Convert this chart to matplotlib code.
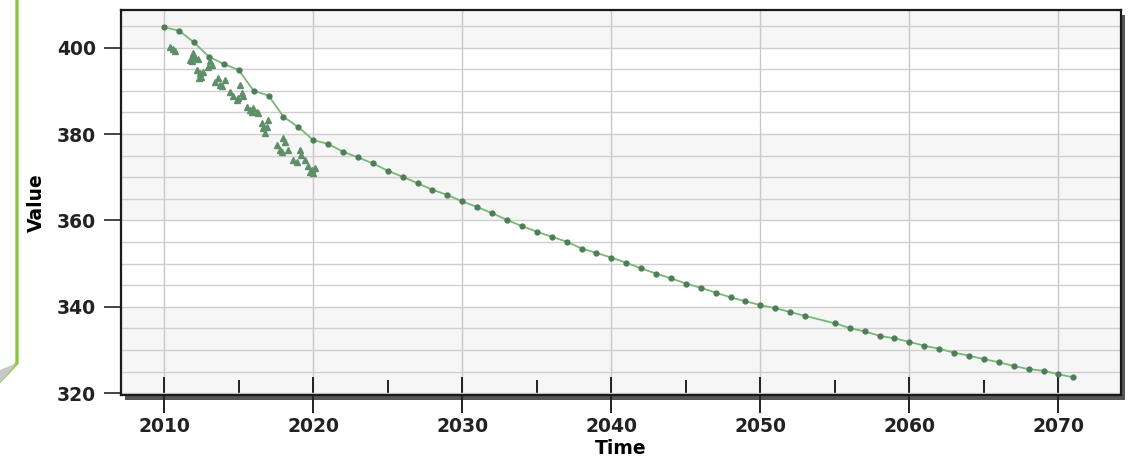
import matplotlib.pyplot as plt
from matplotlib.patches import Rectangle, Polygon
from matplotlib.lines import Line2D
from matplotlib.ticker import MultipleLocator

# projected series (yearly, 2054 missing in the original)
proj_years = [2010, 2011, 2012, 2013, 2014, 2015, 2016, 2017, 2018, 2019,
              2020, 2021, 2022, 2023, 2024, 2025, 2026, 2027, 2028, 2029,
              2030, 2031, 2032, 2033, 2034, 2035, 2036, 2037, 2038, 2039,
              2040, 2041, 2042, 2043, 2044, 2045, 2046, 2047, 2048, 2049,
              2050, 2051, 2052, 2053, 2055, 2056, 2057, 2058, 2059, 2060,
              2061, 2062, 2063, 2064, 2065, 2066, 2067, 2068, 2069, 2070, 2071]
proj_values = [404.7, 403.9, 401.2, 397.9, 396.2, 394.8, 390.0, 388.9, 384.0, 381.6,
               378.6, 377.7, 375.9, 374.6, 373.2, 371.5, 370.1, 368.6, 367.1, 365.9,
               364.4, 363.1, 361.7, 360.1, 358.7, 357.4, 356.2, 355.1, 353.5, 352.5,
               351.4, 350.2, 348.9, 347.7, 346.6, 345.4, 344.4, 343.3, 342.2, 341.3,
               340.4, 339.7, 338.8, 337.9, 336.2, 335.1, 334.3, 333.3, 332.7, 331.9,
               331.0, 330.3, 329.4, 328.7, 327.9, 327.2, 326.3, 325.6, 325.2, 324.4, 323.7]

# observed points (triangles)
obs_years = [2010.39, 2010.56, 2010.72, 2011.72, 2011.84, 2011.95, 2012.06, 2012.28,
             2011.84, 2013.06, 2013.18, 2012.95, 2012.17, 2012.40, 2012.50, 2012.60,
             2012.35, 2013.40, 2013.62, 2013.74, 2014.07, 2013.85, 2014.40, 2014.60,
             2015.08, 2015.20, 2014.97, 2015.30, 2014.86, 2015.53, 2015.75, 2015.97,
             2016.20, 2016.30, 2015.86, 2016.53, 2016.64, 2016.75, 2016.98, 2016.87,
             2017.54, 2017.76, 2017.98, 2018.10, 2018.30, 2017.87, 2018.65, 2018.88,
             2019.10, 2019.20, 2019.44, 2019.66, 2019.89, 2020.10, 2020.00, 2019.77]
obs_values = [400.2, 399.7, 399.1, 397.2, 397.9, 398.7, 397.5, 397.4,
              396.8, 396.8, 396.0, 395.6, 394.8, 394.1, 393.3, 394.4,
              392.9, 392.1, 392.9, 391.4, 392.5, 391.0, 389.8, 388.7,
              391.4, 389.4, 388.3, 388.7, 387.9, 386.3, 385.6, 386.0,
              385.2, 384.8, 385.2, 382.5, 381.3, 380.2, 383.3, 381.7,
              377.5, 376.3, 379.0, 378.2, 376.3, 375.9, 374.0, 373.6,
              376.3, 375.2, 374.0, 372.5, 371.7, 372.1, 370.9, 371.3]

W, H = 1132, 463
fig = plt.figure(figsize=(W / 100, H / 100), dpi=100)
plt.rcParams['font.family'] = ['DejaVu Sans']

ax_l, ax_r, ax_t, ax_b = 121, 1121, 10, 395
ax = fig.add_axes([ax_l / W, 1 - ax_b / H, (ax_r - ax_l) / W, (ax_b - ax_t) / H])
ax.set_zorder(1)

# drop shadow behind the plot box
fig.patches.append(Rectangle(((ax_l + 4) / W, 1 - (ax_b + 5) / H),
                             (ax_r - ax_l) / W, (ax_b - ax_t) / H,
                             transform=fig.transFigure, facecolor='#555555',
                             edgecolor='none', zorder=-1))

# green callout border on the left
fig.patches.append(Polygon([(17 / W, 1 - 363 / H), (0, 1 - 370 / H), (0, 1 - 383 / H)],
                           closed=True, transform=fig.transFigure,
                           facecolor='#c8c8c8', edgecolor='none', zorder=-1))
fig.lines.append(Line2D([17 / W, 17 / W, 0], [1.0, 1 - 363 / H, 1 - 381 / H],
                        transform=fig.transFigure, color='#8cc63e', lw=2.4, zorder=-1))

ax.set_facecolor('white')
for lo, hi in [(300, 340), (360, 380), (400, 420)]:
    ax.axhspan(lo, hi, color='#f6f6f6', zorder=0, lw=0)

ax.set_xlim(2007.1, 2074.2)
ax.set_ylim(319.6, 408.7)

ax.xaxis.set_major_locator(MultipleLocator(10))
ax.xaxis.set_minor_locator(MultipleLocator(5))
ax.yaxis.set_major_locator(MultipleLocator(20))
ax.yaxis.set_minor_locator(MultipleLocator(5))

ax.grid(True, which='major', axis='x', color='#c8c8c8', lw=1.0, zorder=1)
ax.grid(True, which='both', axis='y', color='#cfcfcf', lw=1.0, zorder=1)
ax.set_axisbelow(True)

ax.tick_params(axis='x', which='major', direction='inout', length=26, width=1.4,
               color='#222222', pad=3, labelsize=13.5)
ax.tick_params(axis='x', which='minor', direction='in', length=11, width=1.4,
               color='#222222')
ax.tick_params(axis='y', which='major', direction='out', length=12, width=1.4,
               color='#444444', pad=6, labelsize=13.5)
ax.tick_params(axis='y', which='minor', length=0)
for lab in ax.get_xticklabels() + ax.get_yticklabels():
    lab.set_fontweight('bold')
    lab.set_color('#222222')

for sp in ax.spines.values():
    sp.set_color('#1a1a1a')
    sp.set_linewidth(1.6)

ax.plot(proj_years, proj_values, color='#78b878', lw=1.3, marker='o', ms=3.5,
        mfc='#4f7d58', mec='#4f7d58', zorder=3)
ax.plot(obs_years, obs_values, linestyle='none', marker='^', ms=5,
        mfc='#5e8f68', mec='#5e8f68', zorder=3)

ax.set_xlabel('Time', fontsize=13.5, fontweight='bold', labelpad=2)
ax.set_ylabel('Value', fontsize=13.5, fontweight='bold', labelpad=8)

fig.savefig('out.png', dpi=100)
